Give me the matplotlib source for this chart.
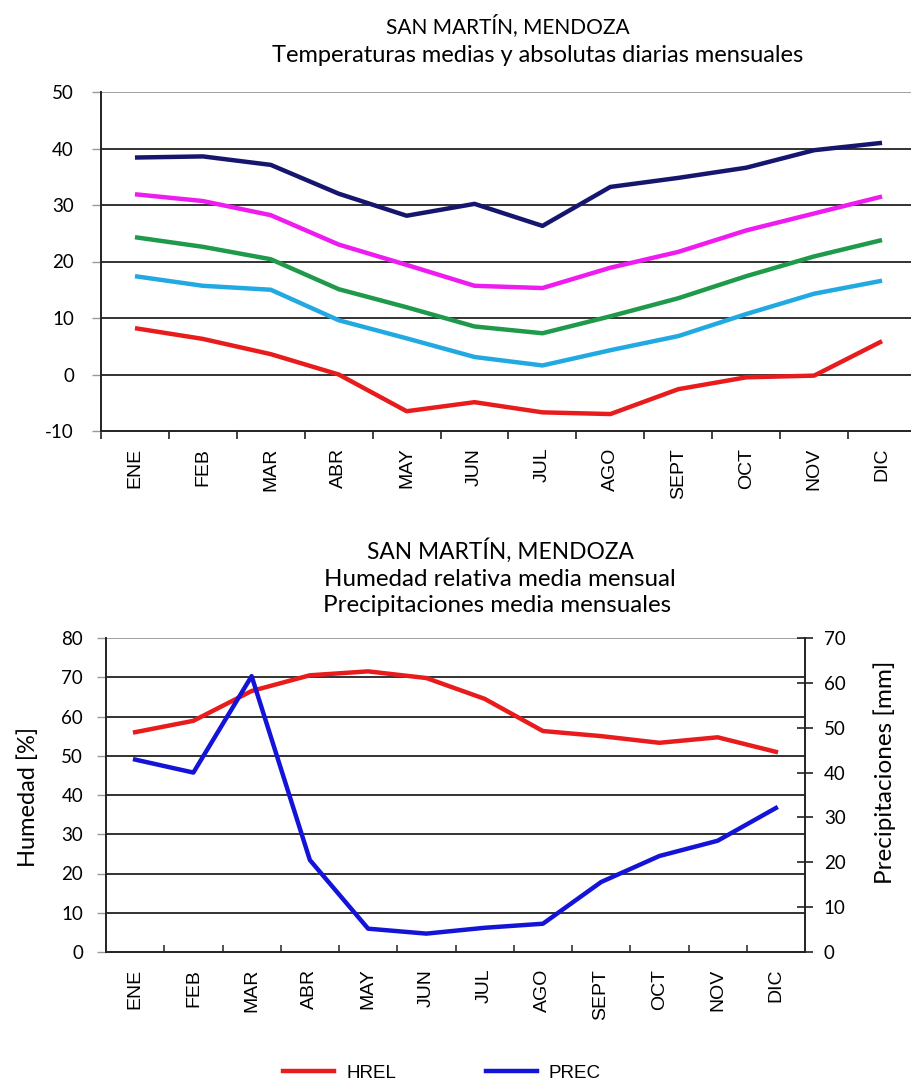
import matplotlib
matplotlib.use("Agg")
import matplotlib.pyplot as plt
import numpy as np

months = ["ENE", "FEB", "MAR", "ABR", "MAY", "JUN", "JUL", "AGO", "SEPT", "OCT", "NOV", "DIC"]

# Top chart: temperatures (°C)
t_abs_max = [38.4, 38.6, 37.1, 32.0, 28.1, 30.2, 26.3, 33.2, 34.8, 36.6, 39.7, 41.0]
t_med_max = [31.9, 30.7, 28.2, 23.0, 19.4, 15.7, 15.3, 18.9, 21.7, 25.5, 28.5, 31.5]
t_media = [24.3, 22.6, 20.4, 15.1, 11.9, 8.5, 7.3, 10.3, 13.5, 17.4, 20.9, 23.8]
t_med_min = [17.4, 15.7, 15.0, 9.6, 6.4, 3.1, 1.6, 4.3, 6.8, 10.7, 14.3, 16.6]
t_abs_min = [8.2, 6.3, 3.6, 0.0, -6.5, -4.9, -6.7, -7.0, -2.6, -0.5, -0.2, 5.9]
temp_ticks = [-10, 0, 10, 20, 30, 40, 50]

# Bottom chart
hrel = [56.0, 58.9, 66.5, 70.5, 71.5, 69.8, 64.5, 56.3, 55.0, 53.3, 54.7, 51.0]
prec = [42.9, 40.0, 61.5, 20.5, 5.2, 4.1, 5.4, 6.3, 15.6, 21.4, 24.8, 32.1]
hum_ticks = [0, 10, 20, 30, 40, 50, 60, 70, 80]
prec_ticks = [0, 10, 20, 30, 40, 50, 60, 70]

W, H = 911, 1091
fig = plt.figure(figsize=(W / 100, H / 100), dpi=100)

num_font = "Lato"
lab_font = "Liberation Sans"

def fx(px):
    return px / W

def fy(py):
    return 1 - py / H

x = np.arange(len(months))

# ---------------- Top chart ----------------
ax1 = fig.add_axes([fx(101), fy(431), fx(916) - fx(101), fy(92) - fy(431)])
colors_top = ["#16166e", "#ee1cee", "#1e9a4a", "#22a9e2", "#e81c1c"]
for s, c in zip([t_abs_max, t_med_max, t_media, t_med_min, t_abs_min], colors_top):
    ax1.plot(x, s, color=c, lw=3.2, solid_capstyle="butt", zorder=3)
ax1.set_xlim(-0.5, 11.5)
ax1.set_ylim(-10, 50)
ax1.set_yticks(temp_ticks)
ax1.set_yticklabels([str(v) for v in temp_ticks], fontfamily=num_font, fontsize=13.5)
for v in temp_ticks[1:-1]:
    ax1.axhline(v, color="#222222", lw=1.3, zorder=1)
ax1.axhline(50, color="#9a9a9a", lw=1.3, zorder=1)
ax1.set_xticks(x)
ax1.set_xticklabels(months, rotation=90, fontfamily=lab_font, fontsize=14)
ax1.tick_params(axis="x", which="major", length=0, pad=12)
ax1.set_xticks(np.arange(-0.5, 12, 1), minor=True)
ax1.tick_params(axis="x", which="minor", direction="out", length=6, width=1.3, color="#333333")
ax1.tick_params(axis="y", direction="out", length=6.5, width=1.0, color="#999999", pad=13)
for sp in ["top", "right"]:
    ax1.spines[sp].set_visible(False)
for sp in ["left", "bottom"]:
    ax1.spines[sp].set_color("#222222")
    ax1.spines[sp].set_linewidth(1.4)

fig.text(fx(508), fy(26), "SAN MARTÍN, MENDOZA", ha="center", va="center",
         fontfamily=num_font, fontsize=15)
fig.text(fx(538), fy(55), "Temperaturas medias y absolutas diarias mensuales", ha="center",
         va="center", fontfamily=num_font, fontsize=17)

# ---------------- Bottom chart ----------------
ax2 = fig.add_axes([fx(106), fy(952), fx(805) - fx(106), fy(638) - fy(952)])
ax3 = ax2.twinx()
l1, = ax2.plot(x, hrel, color="#e81c1c", lw=3.2, zorder=3, label="HREL")
l2, = ax3.plot(x, prec, color="#1414d8", lw=3.2, zorder=3, label="PREC")
ax2.set_xlim(-0.5, 11.5)
ax2.set_ylim(0, 80)
ax3.set_ylim(0, 70)
ax2.set_yticks(hum_ticks)
ax2.set_yticklabels([str(v) for v in hum_ticks], fontfamily=num_font, fontsize=13.5)
ax3.set_yticks(prec_ticks)
ax3.set_yticklabels([str(v) for v in prec_ticks], fontfamily=num_font, fontsize=13.5)
for v in hum_ticks[1:-1]:
    ax2.axhline(v, color="#222222", lw=1.3, zorder=1)
ax2.axhline(80, color="#9a9a9a", lw=1.3, zorder=1)
ax2.set_xticks(x)
ax2.set_xticklabels(months, rotation=90, fontfamily=lab_font, fontsize=14)
ax2.tick_params(axis="x", which="major", length=0, pad=12)
ax2.set_xticks(np.arange(0.5, 11, 1), minor=True)
ax2.tick_params(axis="x", which="minor", direction="in", length=5, width=1.2, color="#333333")
ax2.tick_params(axis="y", direction="out", length=6.5, width=1.0, color="#999999", pad=10)
ax3.tick_params(axis="y", direction="inout", length=11, width=1.2, color="#222222", pad=8)
for a in (ax2, ax3):
    a.spines["top"].set_visible(False)
ax3.spines["left"].set_visible(False)
ax3.spines["bottom"].set_visible(False)
ax2.spines["right"].set_visible(False)
for a, sp in [(ax2, "left"), (ax2, "bottom"), (ax3, "right")]:
    a.spines[sp].set_color("#222222")
    a.spines[sp].set_linewidth(1.4)

fig.text(fx(28), fy(797), "Humedad [%]", rotation=90, ha="center", va="center",
         fontfamily=num_font, fontsize=17)
fig.text(fx(885), fy(772), "Precipitaciones [mm]", rotation=90, ha="center", va="center",
         fontfamily=num_font, fontsize=17.5)

fig.text(fx(500), fy(551), "SAN MARTÍN, MENDOZA", ha="center", va="center",
         fontfamily=num_font, fontsize=16.4)
fig.text(fx(500), fy(579), "Humedad relativa media mensual", ha="center", va="center",
         fontfamily=num_font, fontsize=17.4)
fig.text(fx(497), fy(606), "Precipitaciones media mensuales", ha="center", va="center",
         fontfamily=num_font, fontsize=17.4)

fig.legend([l1, l2], ["HREL", "PREC"], loc="center", bbox_to_anchor=(fx(442), fy(1073)),
           ncol=2, frameon=False, handlelength=2.7, columnspacing=4.8, handletextpad=0.64,
           prop={"family": lab_font, "size": 13.5})

fig.savefig("out.png", dpi=100)
